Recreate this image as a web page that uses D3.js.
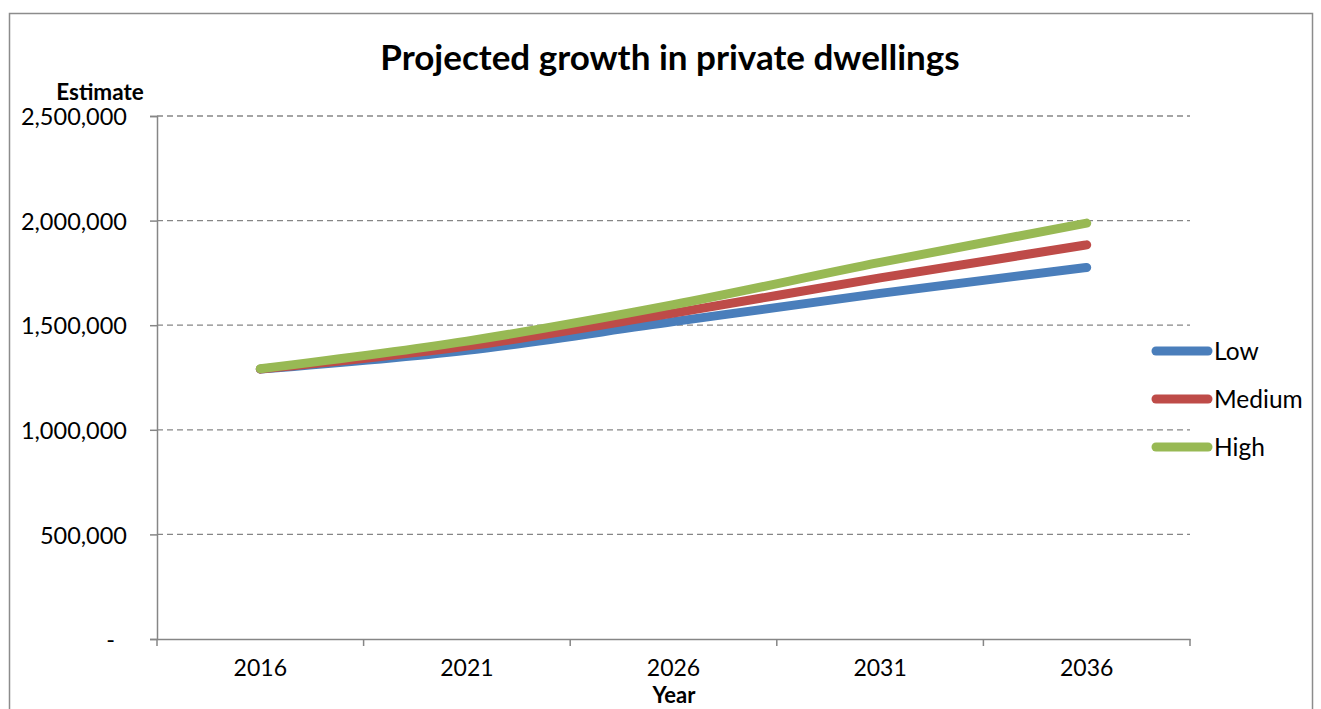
<!DOCTYPE html>
<html><head><meta charset="utf-8">
<script src="https://cdn.jsdelivr.net/npm/d3@7"></script>
<style>body{margin:0;background:#fff}svg{display:block}text{font-family:Lato,"Open Sans",sans-serif}</style>
</head><body>
<svg id="c" width="1321" height="709"></svg>
<script>
const categories = ["2016","2021","2026","2031","2036"];
const seriesNames = ["Low","Medium","High"];
const lowValues = [1290000,1380000,1517000,1652000,1776000];
const mediumValues = [1290000,1400000,1558000,1726000,1884000];
const highValues = [1292000,1424000,1598000,1800000,1988000];
const yTicks = [0,500000,1000000,1500000,2000000,2500000];
const colors = ["#4a7ebb","#be4b48","#98b954"];

const svg = d3.select("#c");
svg.append("rect").attr("x",9.5).attr("y",13.5).attr("width",1303).attr("height",720)
  .attr("fill","none").attr("stroke","#8c8c8c").attr("stroke-width",1.5);

const L=157,R=1190,T=116,B=639;
const x = d3.scaleBand().domain(categories).range([L,R]);
const y = d3.scaleLinear().domain([0,2500000]).range([B,T]);

// gridlines
svg.append("g").selectAll("line").data(yTicks.filter(d=>d>0)).join("line")
  .attr("x1",L).attr("x2",R).attr("y1",d=>y(d)).attr("y2",d=>y(d))
  .attr("stroke","#868686").attr("stroke-width",1.3).attr("stroke-dasharray","6,4");

// y axis
const yAxis = svg.append("g").attr("transform",`translate(${L},0)`)
  .call(d3.axisLeft(y).tickValues(yTicks).tickSize(7).tickPadding(23)
    .tickFormat(d=>d===0?"-":d3.format(",")(d)));
yAxis.select(".domain").attr("stroke","#868686").attr("stroke-width",1.5);
yAxis.selectAll(".tick line").attr("stroke","#868686").attr("stroke-width",1.5);
yAxis.selectAll(".tick text").attr("font-size",23.5).attr("fill","#000")
  .attr("font-family","Lato").attr("dy","0.37em")
  .attr("dx",d=>d===0?-12:0);

// x axis
const xAxis = svg.append("g").attr("transform",`translate(0,${B})`)
  .call(d3.axisBottom(x).tickSize(0).tickPadding(21));
xAxis.select(".domain").attr("stroke","#868686").attr("stroke-width",1.5);
xAxis.selectAll(".tick text").attr("font-size",23).attr("fill","#000").attr("font-family","Lato");
const bounds = categories.map(c=>x(c)).concat([R]);
svg.append("g").selectAll("line").data(bounds).join("line")
  .attr("x1",d=>d).attr("x2",d=>d).attr("y1",B).attr("y2",B+7)
  .attr("stroke","#868686").attr("stroke-width",1.5);

// lines
const data = [lowValues,mediumValues,highValues];
const line = d3.line().x((d,i)=>x(categories[i])+x.bandwidth()/2).y(d=>y(d)).curve(d3.curveMonotoneX);
svg.append("g").selectAll("path").data(data).join("path")
  .attr("d",line).attr("fill","none").attr("stroke",(d,i)=>colors[i])
  .attr("stroke-width",9).attr("stroke-linecap","round").attr("stroke-linejoin","round");

// legend
const leg = svg.append("g").selectAll("g").data(seriesNames).join("g")
  .attr("transform",(d,i)=>`translate(1156,${351+i*48})`);
leg.append("line").attr("x1",0).attr("x2",52).attr("stroke",(d,i)=>colors[i])
  .attr("stroke-width",9).attr("stroke-linecap","round");
leg.append("text").attr("x",58).attr("dy","0.35em").attr("font-size",24.5).text(d=>d);

// titles
svg.append("text").attr("x",670).attr("y",70).attr("text-anchor","middle")
  .attr("font-size",35).attr("font-weight","bold").text("Projected growth in private dwellings");
svg.append("text").attr("x",100).attr("y",100).attr("text-anchor","middle")
  .attr("font-size",22.5).attr("font-weight","bold").text("Estimate");
svg.append("text").attr("x",674).attr("y",703).attr("text-anchor","middle")
  .attr("font-size",22).attr("font-weight","bold").text("Year");
</script>
</body></html>
